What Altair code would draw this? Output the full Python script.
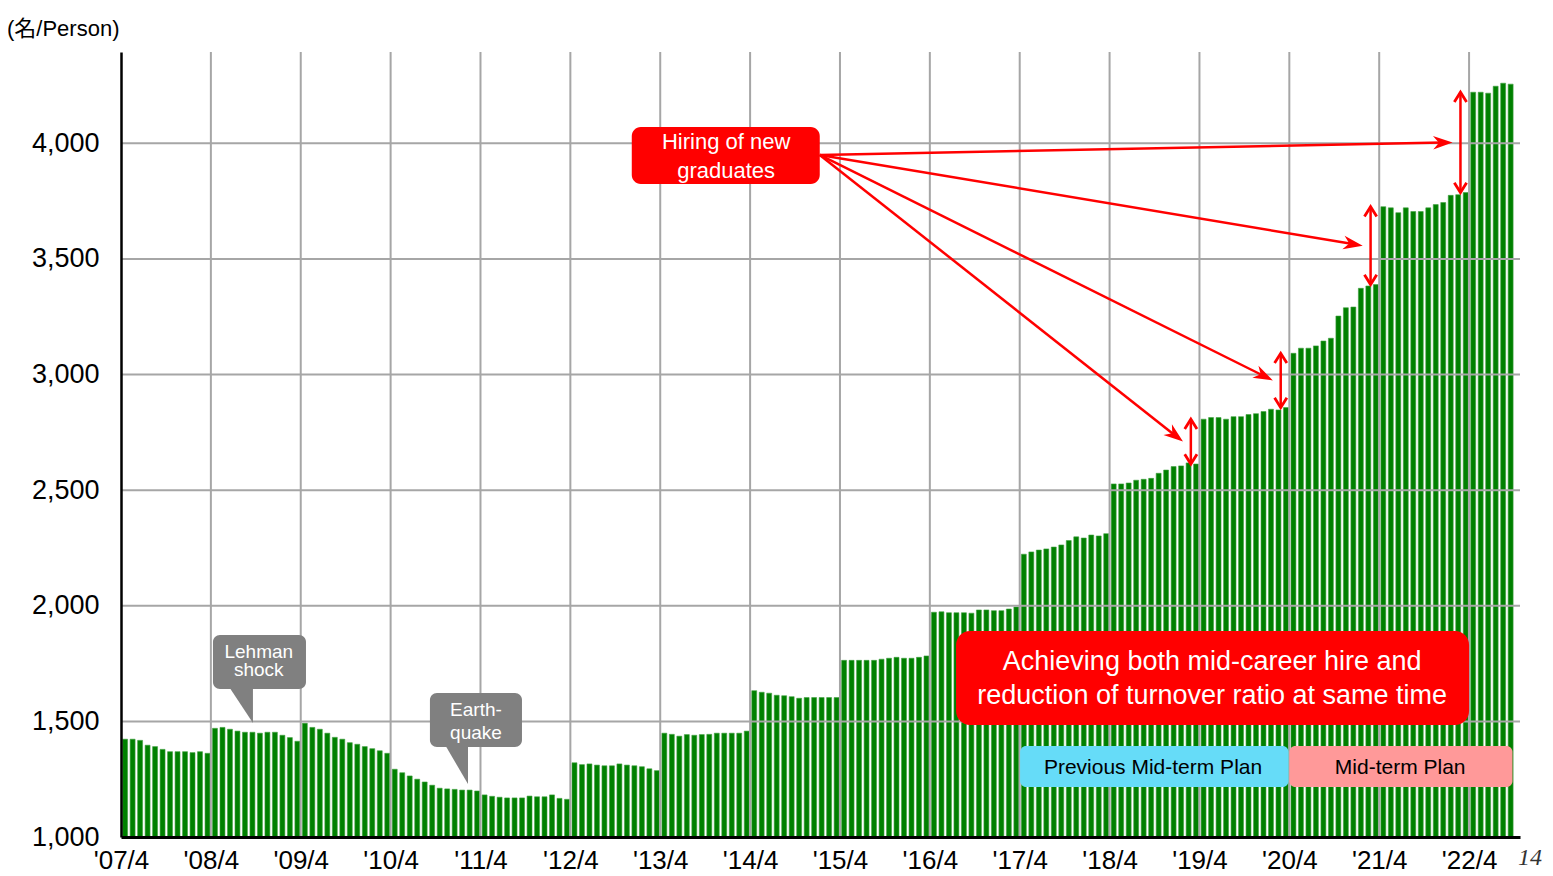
import json
import math
import altair as alt
import pandas as pd

# ---------------- data (monthly headcount, fiscal years starting April) ----------------
fy_labels = ["'07/4", "'08/4", "'09/4", "'10/4", "'11/4", "'12/4", "'13/4", "'14/4",
             "'15/4", "'16/4", "'17/4", "'18/4", "'19/4", "'20/4", "'21/4", "'22/4"]
y_ticks = [1000, 1500, 2000, 2500, 3000, 3500, 4000]

fy2007 = [1423, 1423, 1418, 1397, 1391, 1379, 1369, 1369, 1369, 1365, 1369, 1362]
fy2008 = [1470, 1474, 1466, 1458, 1453, 1453, 1449, 1453, 1453, 1440, 1430, 1414]
fy2009 = [1492, 1474, 1466, 1449, 1431, 1423, 1408, 1401, 1391, 1382, 1373, 1362]
fy2010 = [1293, 1278, 1264, 1250, 1238, 1224, 1211, 1208, 1206, 1203, 1203, 1199]
fy2011 = [1182, 1176, 1172, 1169, 1169, 1169, 1177, 1174, 1174, 1182, 1167, 1163]
fy2012 = [1321, 1313, 1316, 1311, 1308, 1308, 1316, 1311, 1308, 1304, 1295, 1287]
fy2013 = [1449, 1444, 1436, 1443, 1440, 1443, 1444, 1449, 1449, 1449, 1449, 1458]
fy2014 = [1633, 1626, 1622, 1613, 1611, 1607, 1600, 1603, 1603, 1603, 1603, 1603]
fy2015 = [1764, 1764, 1764, 1764, 1764, 1769, 1773, 1777, 1773, 1773, 1777, 1783]
fy2016 = [1972, 1974, 1970, 1970, 1970, 1968, 1982, 1982, 1979, 1979, 1986, 1995]
fy2017 = [2223, 2233, 2241, 2246, 2254, 2263, 2282, 2298, 2293, 2306, 2302, 2312]
fy2018 = [2527, 2527, 2531, 2543, 2547, 2551, 2573, 2587, 2602, 2605, 2618, 2613]
fy2019 = [2807, 2814, 2814, 2807, 2818, 2818, 2827, 2831, 2840, 2850, 2847, 2857]
fy2020 = [3092, 3114, 3114, 3124, 3145, 3157, 3253, 3289, 3292, 3373, 3383, 3389]
fy2021 = [3726, 3721, 3700, 3721, 3705, 3705, 3721, 3735, 3744, 3775, 3778, 3787]
fy2022 = [4221, 4221, 4217, 4247, 4260, 4256]

unit_label = "(名/Person)"
hiring_lines = ["Hiring of new", "graduates"]
achieve_lines = ["Achieving both mid-career hire and", "reduction of turnover ratio at same time"]
prev_plan = "Previous Mid-term Plan"
cur_plan = "Mid-term Plan"
lehman_lines = ["Lehman", "shock"]
quake_lines = ["Earth-", "quake"]
page_no = "14"
april_hires = [2019, 2020, 2021, 2022]   # April steps highlighted by arrows

series = (fy2007 + fy2008 + fy2009 + fy2010 + fy2011 + fy2012 + fy2013 + fy2014 +
          fy2015 + fy2016 + fy2017 + fy2018 + fy2019 + fy2020 + fy2021 + fy2022)

# ---------------- layout ----------------
W, H = 1399, 785
XMAX = 186.8
YMIN, YMAX = 1000, 4395
PX_X = W / XMAX
PX_Y = H / (YMAX - YMIN)

GREEN = "#008000"
RED = "#ff0000"
GRID = "#a6a6a6"
SANS = "Liberation Sans, Arial, sans-serif"

xscale = alt.Scale(domain=[0, XMAX], nice=False, zero=False)
yscale = alt.Scale(domain=[YMIN, YMAX], nice=False, zero=False)

xaxis = alt.Axis(values=[12 * k for k in range(len(fy_labels))],
                 labelExpr=json.dumps(fy_labels) + "[round(datum.value / 12)]",
                 grid=False, ticks=False, domainColor="black", domainWidth=3,
                 labelFont=SANS, labelFontSize=26, labelColor="black",
                 labelPadding=10, labelFlush=False, labelOverlap=False,
                 title=None, zindex=1)
yaxis = alt.Axis(values=y_ticks, labelExpr="format(datum.value, ',')",
                 grid=False, ticks=False,
                 domainColor="black", domainWidth=2.5,
                 labelFont=SANS, labelFontSize=27, labelColor="black",
                 labelPadding=22, labelFlush=False, title=None, zindex=1)


def X(f):
    return alt.X(f, type="quantitative", scale=xscale, axis=xaxis)


def Y(f):
    return alt.Y(f, type="quantitative", scale=yscale, axis=yaxis)


bars_df = pd.DataFrame({
    "i": list(range(len(series))),
    "value": series,
})
bars_df["x0"] = bars_df["i"] + 0.22
bars_df["x1"] = bars_df["i"] + 0.88
bars_df["base"] = YMIN

bars = alt.Chart(bars_df).mark_rect(fill=GREEN, stroke="#3f9f3f", strokeWidth=0.6).encode(
    x=X("x0"), x2="x1:Q", y=Y("value"), y2="base:Q",
)

hgrid = alt.Chart(pd.DataFrame({"v": y_ticks[1:]})).mark_rule(
    color=GRID, strokeWidth=2).encode(y=Y("v"))
vgrid = alt.Chart(pd.DataFrame({"m": [12 * k for k in range(1, len(fy_labels))]})).mark_rule(
    color=GRID, strokeWidth=2).encode(x=X("m"))

layers = [bars, hgrid, vgrid]

# ---------------- arrows ----------------
start = (93.3, 3950)
shafts, heads, dbl, chev = [], [], [], []
for yr in april_hires:
    i = (yr - 2007) * 12
    vb, va = series[i - 1], series[i]
    xd = i - 1.15
    dbl.append({"x": xd, "y": vb, "y2": va})
    chev.append({"x": xd, "y": va, "angle": 0})
    chev.append({"x": xd, "y": vb, "angle": 180})
    tip = (i - 2.2, (va + vb) / 2)
    dxp = (tip[0] - start[0]) * PX_X
    dyp = -(tip[1] - start[1]) * PX_Y
    L = math.hypot(dxp, dyp)
    ux, uy = dxp / L, dyp / L
    end = (tip[0] - 10 * ux / PX_X, tip[1] + 10 * uy / PX_Y)
    shafts.append({"x": start[0], "y": start[1], "x2": end[0], "y2": end[1]})
    heads.append({"x": tip[0], "y": tip[1], "angle": math.degrees(math.atan2(dyp, dxp)) % 360})

layers.append(alt.Chart(pd.DataFrame(shafts)).mark_rule(color=RED, strokeWidth=2.5).encode(
    x=X("x"), y=Y("y"), x2="x2:Q", y2="y2:Q"))
layers.append(alt.Chart(pd.DataFrame(heads)).mark_point(
    shape="M0,0L-2,-0.7L-1.4,0L-2,0.7Z", filled=True, fill=RED, strokeWidth=0,
    size=380, opacity=1).encode(x=X("x"), y=Y("y"), angle=alt.Angle("angle:Q", scale=None)))
layers.append(alt.Chart(pd.DataFrame(dbl)).mark_rule(color=RED, strokeWidth=2.5).encode(
    x=X("x"), y=Y("y"), y2="y2:Q"))
layers.append(alt.Chart(pd.DataFrame(chev)).mark_point(
    shape="M-1,1.6L0,0L1,1.6", filled=False, stroke=RED, strokeWidth=2.8,
    size=150, opacity=1).encode(x=X("x"), y=Y("y"), angle=alt.Angle("angle:Q", scale=None)))


# ---------------- boxes & callouts ----------------
def box(x1, x2, y1, y2, fill, r):
    return alt.Chart(pd.DataFrame({"x": [x1], "x2": [x2], "y": [y1], "y2": [y2]})).mark_rect(
        fill=fill, cornerRadius=r).encode(x=X("x"), x2="x2:Q", y=Y("y"), y2="y2:Q")


def texts(xc, ys, lines, size, color):
    return alt.Chart(pd.DataFrame({"x": [xc] * len(lines), "y": ys, "t": lines})).mark_text(
        font=SANS, fontSize=size, color=color, align="center", baseline="middle").encode(
        x=X("x"), y=Y("y"), text="t:N")


def pointer(xa, xb, ytop, ytip, fill):
    return alt.Chart(pd.DataFrame({"x": [xa, xb], "y": [ytop, ytop], "y2": [ytop, ytip]})).mark_area(
        fill=fill).encode(x=X("x"), y=Y("y"), y2="y2:Q")


GRAY = "#808080"
# Lehman shock
layers.append(pointer(14.42, 17.62, 1650, 1493, GRAY))
layers.append(box(12.28, 24.70, 1874, 1640, GRAY, 7))
layers.append(texts(18.4, [1800, 1722], lehman_lines, 19, "white"))
# Earthquake
layers.append(pointer(43.26, 46.33, 1399, 1229, GRAY))
layers.append(box(41.25, 53.54, 1623, 1389, GRAY, 7))
layers.append(texts(47.4, [1549, 1450], quake_lines, 19, "white"))
# Hiring of new graduates
layers.append(box(68.2, 93.3, 4071, 3824, RED, 9))
layers.append(texts(80.8, [4006, 3881], hiring_lines, 22, "white"))
# Achieving ...
layers.append(box(111.5, 180.0, 1891, 1484, RED, 14))
layers.append(texts(145.7, [1757, 1610], achieve_lines, 27, "white"))
# plan periods
layers.append(box(120.05, 155.9, 1394, 1216, "#66dcf8", 6))
layers.append(texts(137.8, [1298], [prev_plan], 21, "black"))
layers.append(box(156.0, 185.8, 1394, 1216, "#ff9999", 6))
layers.append(texts(170.8, [1298], [cur_plan], 21, "black"))

# unit label (top-left)
layers.append(alt.Chart(pd.DataFrame({"t": [unit_label]})).mark_text(
    font=SANS + ", Noto Sans CJK JP", fontSize=22, color="black", align="left",
    baseline="middle", x=-114, y=-23).encode(text="t:N"))
# page number
layers.append(alt.Chart(pd.DataFrame({"t": [page_no]})).mark_text(
    font="Liberation Serif, serif", fontStyle="italic", fontSize=24, color="#333333",
    align="left", baseline="middle", x=1397, y=806).encode(text="t:N"))

chart = alt.layer(*layers).properties(
    width=W, height=H,
    autosize=alt.AutoSizeParams(type="none"),
    padding={"left": 113, "top": 44, "right": 24, "bottom": 39},
).configure_view(stroke=None)

chart.save("out.html", embed_options={"renderer": "svg", "actions": False})
